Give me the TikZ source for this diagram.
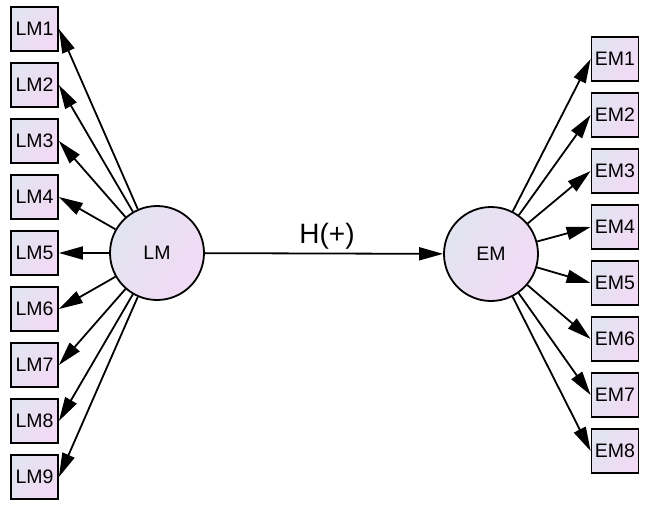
\documentclass[tikz,border=0pt]{standalone}
\usepackage{fontspec}
\setmainfont{Liberation Sans}
\usetikzlibrary{arrows.meta}

\tikzset{
  lavender/.style={shading=axis, left color={rgb,255:red,226;green,228;blue,240},
    right color={rgb,255:red,242;green,218;blue,245}, shading angle=60},
  indicator/.style={draw, line width=1.8pt, lavender, inner sep=0pt,
    minimum width=47pt, minimum height=44pt, font=\fontsize{19.5}{19.5}\selectfont},
  latent/.style={draw, circle, line width=1.8pt, lavender, inner sep=0pt,
    minimum size=94pt, font=\fontsize{19.5}{19.5}\selectfont},
  path/.style={line width=1.8pt, -{Triangle[length=24pt,width=13pt]}}
}

\begin{document}
\begin{tikzpicture}[x=1pt,y=-1pt]
  \useasboundingbox (0,0) rectangle (648,504);
  % latent variables
  \node[latent] (LM) at (157,253) {LM};
  \node[latent] (EM) at (491,254) {EM};
  % LM indicators
  \node[indicator] (LM1) at (34.5,29) {LM1};
  \node[indicator] (LM2) at (34.5,85) {LM2};
  \node[indicator] (LM3) at (34.5,141) {LM3};
  \node[indicator] (LM4) at (34.5,197) {LM4};
  \node[indicator] (LM5) at (34.5,253) {LM5};
  \node[indicator] (LM6) at (34.5,309) {LM6};
  \node[indicator] (LM7) at (34.5,365) {LM7};
  \node[indicator] (LM8) at (34.5,421) {LM8};
  \node[indicator] (LM9) at (34.5,477) {LM9};
  % EM indicators
  \node[indicator] (EM1) at (615,59) {EM1};
  \node[indicator] (EM2) at (615,115) {EM2};
  \node[indicator] (EM3) at (615,171) {EM3};
  \node[indicator] (EM4) at (615,227) {EM4};
  \node[indicator] (EM5) at (615,283) {EM5};
  \node[indicator] (EM6) at (615,339) {EM6};
  \node[indicator] (EM7) at (615,395) {EM7};
  \node[indicator] (EM8) at (615,451) {EM8};
  % loadings
  \draw[path] (LM) -- (LM1.east);
  \draw[path] (LM) -- (LM2.east);
  \draw[path] (LM) -- (LM3.east);
  \draw[path] (LM) -- (LM4.east);
  \draw[path] (LM) -- (LM5.east);
  \draw[path] (LM) -- (LM6.east);
  \draw[path] (LM) -- (LM7.east);
  \draw[path] (LM) -- (LM8.east);
  \draw[path] (LM) -- (LM9.east);
  \draw[path] (EM) -- (EM1.west);
  \draw[path] (EM) -- (EM2.west);
  \draw[path] (EM) -- (EM3.west);
  \draw[path] (EM) -- (EM4.west);
  \draw[path] (EM) -- (EM5.west);
  \draw[path] (EM) -- (EM6.west);
  \draw[path] (EM) -- (EM7.west);
  \draw[path] (EM) -- (EM8.west);
  % hypothesis
  \draw[path] (LM) -- (EM);
  \node[font=\fontsize{28}{28}\selectfont] (H) at (327,236) {H(+)};
\end{tikzpicture}
\end{document}
